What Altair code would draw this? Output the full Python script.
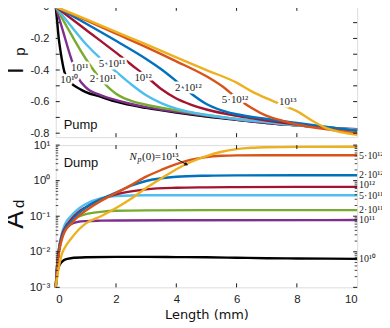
import altair as alt
import pandas as pd

series = ["1e10", "1e11", "2e11", "5e11", "1e12", "2e12", "5e12", "1e13"]
colors = ["#000000", "#7E2F8E", "#77AC30", "#4DBEEE", "#A2142F", "#0072BD", "#D95319", "#EDB120"]

# ---- Pump panel: T_p vs length (mm)
tp_x_1e10 = [0, 0.05, 0.1, 0.15, 0.2, 0.3, 0.5, 0.8, 1, 1.5, 2, 3, 4, 5, 6, 7, 8, 9, 10]
tp_y_1e10 = [0, -0.1, -0.2, -0.27, -0.33, -0.42, -0.48, -0.52, -0.54, -0.57, -0.6, -0.64, -0.67, -0.695, -0.715, -0.735, -0.75, -0.765, -0.775]
tp_x_1e11 = [0, 0.25, 0.5, 0.75, 1, 1.5, 2, 3, 4, 5, 6, 7, 8, 9, 10]
tp_y_1e11 = [0, -0.16, -0.32, -0.45, -0.51, -0.56, -0.59, -0.635, -0.665, -0.69, -0.715, -0.735, -0.75, -0.765, -0.775]
tp_x_2e11 = [0, 0.5, 1, 1.5, 2, 2.5, 3, 4, 5, 6, 7, 8, 9, 10]
tp_y_2e11 = [0, -0.17, -0.33, -0.46, -0.55, -0.595, -0.62, -0.655, -0.685, -0.71, -0.73, -0.75, -0.765, -0.78]
tp_x_5e11 = [0, 0.5, 1, 1.5, 2, 2.5, 3, 3.5, 4, 5, 6, 7, 8, 9, 10]
tp_y_5e11 = [0, -0.12, -0.235, -0.33, -0.41, -0.49, -0.56, -0.61, -0.645, -0.685, -0.71, -0.73, -0.75, -0.765, -0.78]
tp_x_1e12 = [0, 1, 2, 2.5, 3, 3.5, 4, 4.5, 5, 6, 7, 8, 9, 10]
tp_y_1e12 = [0, -0.145, -0.29, -0.365, -0.44, -0.52, -0.58, -0.62, -0.65, -0.69, -0.72, -0.745, -0.765, -0.785]
tp_x_2e12 = [0, 1, 2, 3, 3.5, 4, 4.5, 5, 5.5, 6, 7, 8, 9, 10]
tp_y_2e12 = [0, -0.105, -0.215, -0.33, -0.395, -0.47, -0.55, -0.615, -0.655, -0.68, -0.71, -0.735, -0.76, -0.785]
tp_x_5e12 = [0, 1, 2, 3, 4, 5, 5.5, 6, 6.5, 7, 7.5, 8, 9, 10]
tp_y_5e12 = [0, -0.085, -0.17, -0.255, -0.345, -0.44, -0.5, -0.575, -0.64, -0.69, -0.72, -0.745, -0.775, -0.8]
tp_x_1e13 = [0, 1, 2, 3, 4, 5, 6, 6.5, 7, 7.5, 8, 8.5, 9, 9.5, 10]
tp_y_1e13 = [0, -0.078, -0.158, -0.238, -0.32, -0.4, -0.48, -0.535, -0.58, -0.62, -0.66, -0.72, -0.77, -0.795, -0.81]

tp_lab_text = ["10¹⁰", "10¹¹", "2·10¹¹", "5·10¹¹", "10¹²", "2·10¹²", "5·10¹²", "10¹³"]
tp_lab_x = [0.45, 0.8, 1.57, 1.87, 2.9, 4.4, 5.95, 7.7]
tp_lab_y = [-0.466, -0.387, -0.454, -0.363, -0.448, -0.515, -0.588, -0.60]

# ---- Dump panel: A_d vs length (mm)
ad_x_1e10 = [0, 0.05, 0.1, 0.2, 0.3, 0.5, 1, 2, 3, 4, 5, 6, 7, 8, 9, 10]
ad_y_1e10 = [0.001, 0.0025, 0.0038, 0.0052, 0.006, 0.0066, 0.007, 0.0072, 0.0072, 0.0071, 0.007, 0.0068, 0.0066, 0.0065, 0.0064, 0.0063]
ad_x_1e11 = [0, 0.05, 0.1, 0.2, 0.3, 0.5, 0.75, 1, 1.5, 2, 4, 10]
ad_y_1e11 = [0.001, 0.0045, 0.011, 0.027, 0.041, 0.06, 0.07, 0.073, 0.075, 0.076, 0.077, 0.078]
ad_x_2e11 = [0, 0.05, 0.1, 0.2, 0.3, 0.5, 0.75, 1, 1.5, 2, 3, 5, 10]
ad_y_2e11 = [0.001, 0.0045, 0.011, 0.029, 0.046, 0.074, 0.097, 0.115, 0.133, 0.142, 0.146, 0.148, 0.148]
ad_x_5e11 = [0, 0.05, 0.1, 0.2, 0.3, 0.5, 0.75, 1, 1.5, 2, 3, 10]
ad_y_5e11 = [0.001, 0.0048, 0.0115, 0.032, 0.058, 0.1, 0.16, 0.22, 0.32, 0.37, 0.39, 0.39]
ad_x_1e12 = [0, 0.05, 0.1, 0.2, 0.3, 0.5, 0.75, 1, 1.5, 2, 2.5, 3, 4, 5, 6, 8, 10]
ad_y_1e12 = [0.001, 0.0043, 0.0105, 0.028, 0.046, 0.079, 0.13, 0.18, 0.3, 0.41, 0.5, 0.57, 0.63, 0.65, 0.66, 0.67, 0.67]
ad_x_2e12 = [0, 0.05, 0.1, 0.2, 0.3, 0.5, 0.75, 1, 1.5, 2, 2.5, 3, 3.5, 4, 5, 6, 8, 10]
ad_y_2e12 = [0.001, 0.004, 0.0095, 0.025, 0.042, 0.07, 0.12, 0.175, 0.3, 0.46, 0.72, 0.98, 1.17, 1.29, 1.38, 1.41, 1.42, 1.42]
ad_x_5e12 = [0, 0.05, 0.1, 0.2, 0.3, 0.5, 0.75, 1, 1.5, 2, 2.5, 3, 3.5, 4, 4.5, 5, 5.5, 6, 7, 10]
ad_y_5e12 = [0.001, 0.0035, 0.0085, 0.022, 0.037, 0.06, 0.1, 0.145, 0.27, 0.45, 0.75, 1.3, 2.0, 2.9, 3.9, 4.6, 5.0, 5.15, 5.2, 5.2]
ad_x_1e13 = [0, 0.05, 0.1, 0.2, 0.3, 0.5, 0.75, 1, 1.5, 2, 2.5, 3, 3.5, 4, 4.5, 5, 5.5, 6, 6.5, 7, 8, 10]
ad_y_1e13 = [0.001, 0.002, 0.0037, 0.0085, 0.013, 0.023, 0.041, 0.063, 0.1, 0.17, 0.31, 0.62, 1.15, 2.1, 3.4, 4.9, 6.5, 7.7, 8.4, 8.7, 8.9, 9.0]

ad_lab_text = ["10¹⁰", "10¹¹", "2·10¹¹", "5·10¹¹", "10¹²", "2·10¹²", "5·10¹²"]
ad_lab_y = [0.0063, 0.076, 0.148, 0.37, 0.75, 1.42, 5.0]

x_ticks = [0, 2, 4, 6, 8, 10]
tp_ticks = [0, -0.2, -0.4, -0.6, -0.8]
ad_ticks = [0.001, 0.01, 0.1, 1, 10]

TICK_FONT = "Liberation Sans"
SERIF = "Liberation Serif"
FRAME = "#1a1a1a"
W, H1, H2 = 303, 131, 143

tp_xs = [tp_x_1e10, tp_x_1e11, tp_x_2e11, tp_x_5e11, tp_x_1e12, tp_x_2e12, tp_x_5e12, tp_x_1e13]
tp_ys = [tp_y_1e10, tp_y_1e11, tp_y_2e11, tp_y_5e11, tp_y_1e12, tp_y_2e12, tp_y_5e12, tp_y_1e13]
ad_xs = [ad_x_1e10, ad_x_1e11, ad_x_2e11, ad_x_5e11, ad_x_1e12, ad_x_2e12, ad_x_5e12, ad_x_1e13]
ad_ys = [ad_y_1e10, ad_y_1e11, ad_y_2e11, ad_y_5e11, ad_y_1e12, ad_y_2e12, ad_y_5e12, ad_y_1e13]


def long_df(xs, ys):
    rows = []
    for i, (s, xl, yl) in enumerate(zip(series, xs, ys)):
        for a, b in zip(xl, yl):
            rows.append({"series": s, "k": i, "x": a, "y": b})
    return pd.DataFrame(rows)


tp_df = long_df(tp_xs, tp_ys)
ad_df = long_df(ad_xs, ad_ys)
color = alt.Color("series:N", scale=alt.Scale(domain=series, range=colors), legend=None)
xscale = alt.Scale(domain=[0, 10], nice=False)
ysc_top = alt.Scale(domain=[-0.825, 0], nice=False, zero=False)
ysc_bot = alt.Scale(type="log", domain=[0.001, 10], nice=False)

yax_top = alt.Axis(
    values=tp_ticks, title=None, ticks=False, domain=False, grid=False,
    labelExpr="replace(datum.value == 0 ? '0' : format(datum.value, '.1f'), '\u2212', '-')",
    labelFont=TICK_FONT, labelFontSize=11, labelColor="#222", labelPadding=7)
xax_bot = alt.Axis(
    values=x_ticks, title="Length (mm)", ticks=False, domain=False, grid=False,
    labelFont=TICK_FONT, labelFontSize=11.5, labelColor="#222", labelPadding=6,
    titleFont="DejaVu Sans", titleFontSize=13, titleFontWeight="normal", titleColor="#111", titlePadding=4)
yax_bot = alt.Axis(
    values=ad_ticks, title=None, ticks=False, domain=False, grid=False,
    labelExpr="'10' + (datum.value >= 10 ? '\u00b9' : datum.value >= 1 ? '\u2070' : datum.value >= 0.1 ? '\u207b\u00b9' : datum.value >= 0.01 ? '\u207b\u00b2' : '\u207b\u00b3')",
    labelFont=TICK_FONT, labelFontSize=11.5, labelColor="#222", labelPadding=6)


def XT(f="x"):
    return alt.X(f"{f}:Q", scale=xscale, axis=None)


def YT(f="y"):
    return alt.Y(f"{f}:Q", scale=ysc_top, axis=yax_top)


def XB(f="x"):
    return alt.X(f"{f}:Q", scale=xscale, axis=xax_bot)


def YB(f="y"):
    return alt.Y(f"{f}:Q", scale=ysc_bot, axis=yax_bot)


def txt(s, **kw):
    return alt.Chart(pd.DataFrame({"t": [s]})).mark_text(**kw)


# ---------------- top panel
top_lines = alt.Chart(tp_df).mark_line(strokeWidth=2.4, interpolate="monotone").encode(
    x=XT(), y=YT(), color=color, detail="k:O")

tp_lab = pd.DataFrame({"x": tp_lab_x, "y": tp_lab_y, "t": tp_lab_text})
halo = alt.Chart(tp_lab).mark_text(font=SERIF, fontSize=11, stroke="white", strokeWidth=5,
                                   fill="white", strokeJoin="round").encode(x=XT(), y=YT(), text="t:N")
labs = alt.Chart(tp_lab).mark_text(font=SERIF, fontSize=11, color="#222").encode(x=XT(), y=YT(), text="t:N")

tp_minor = pd.DataFrame({"y": [-0.1 * i for i in range(9)]})
xt = pd.DataFrame({"x": [2, 4, 6, 8]})
ty_l = alt.Chart(tp_minor).mark_rule(color=FRAME, strokeWidth=1).encode(y=YT(), x=alt.value(0), x2=alt.value(4))
ty_r = alt.Chart(tp_minor).mark_rule(color=FRAME, strokeWidth=1).encode(y=YT(), x=alt.value(W), x2=alt.value(W - 4))
tx_b1 = alt.Chart(xt).mark_rule(color=FRAME, strokeWidth=1).encode(x=XT(), y=alt.value(H1), y2=alt.value(H1 - 4))
tx_t1 = alt.Chart(xt).mark_rule(color=FRAME, strokeWidth=1).encode(x=XT(), y=alt.value(0), y2=alt.value(4))

pump = txt("Pump", font=TICK_FONT, fontSize=13, align="left", baseline="alphabetic", color="#111").encode(
    text="t:N", x=alt.value(8), y=alt.value(123))
t_big = txt("T", font=TICK_FONT, fontSize=26, angle=270, align="center", baseline="middle", color="#111").encode(
    text="t:N", x=alt.value(-41), y=alt.value(64))
t_sub = txt("p", font=TICK_FONT, fontSize=15, angle=270, align="center", baseline="middle", color="#111").encode(
    text="t:N", x=alt.value(-36), y=alt.value(45))

top = alt.layer(top_lines, halo, labs, ty_l, ty_r, tx_b1, tx_t1, pump, t_big, t_sub).properties(width=W, height=H1)

# ---------------- bottom panel
bot_lines = alt.Chart(ad_df).mark_line(strokeWidth=2.4, interpolate="monotone").encode(
    x=XB(), y=YB(), color=color, detail="k:O")

ad_lab = pd.DataFrame({"x": [10] * len(ad_lab_y), "y": ad_lab_y, "t": ad_lab_text})
rlabs = alt.Chart(ad_lab).mark_text(font=SERIF, fontSize=10, align="left", dx=2, baseline="middle", color="#222").encode(
    x=XB(), y=YB(), text="t:N")

ad_major = pd.DataFrame({"y": ad_ticks})
ad_minor = pd.DataFrame({"y": [k * d for d in [0.001, 0.01, 0.1, 1] for k in range(2, 10)]})
by_l = alt.Chart(ad_major).mark_rule(color=FRAME).encode(y=YB(), x=alt.value(0), x2=alt.value(4))
by_r = alt.Chart(ad_major).mark_rule(color=FRAME).encode(y=YB(), x=alt.value(W), x2=alt.value(W - 4))
bm_l = alt.Chart(ad_minor).mark_rule(color=FRAME, strokeWidth=0.8).encode(y=YB(), x=alt.value(0), x2=alt.value(2.5))
bm_r = alt.Chart(ad_minor).mark_rule(color=FRAME, strokeWidth=0.8).encode(y=YB(), x=alt.value(W), x2=alt.value(W - 2.5))
tx_b2 = alt.Chart(xt).mark_rule(color=FRAME).encode(x=XB(), y=alt.value(H2), y2=alt.value(H2 - 4))
tx_t2 = alt.Chart(xt).mark_rule(color=FRAME).encode(x=XB(), y=alt.value(0), y2=alt.value(4))

dump = txt("Dump", font=TICK_FONT, fontSize=13, align="left", baseline="alphabetic", color="#111").encode(
    text="t:N", x=alt.value(8), y=alt.value(22))
a_big = txt("A", font=TICK_FONT, fontSize=27, angle=270, align="center", baseline="middle", color="#111").encode(
    text="t:N", x=alt.value(-40.5), y=alt.value(75))
a_sub = txt("d", font=TICK_FONT, fontSize=15, angle=270, align="center", baseline="middle", color="#111").encode(
    text="t:N", x=alt.value(-37), y=alt.value(59))

# annotation N_p(0)=10^13 with arrow
ann = pd.DataFrame({"x": [2.45], "y": [3.9]})
ann_n = alt.Chart(ann).mark_text(font=SERIF, fontSize=11, fontStyle="italic", align="left",
                                 baseline="alphabetic", color="#111").encode(x=XB(), y=YB(), text=alt.value("N"))
ann_p = alt.Chart(ann).mark_text(font=SERIF, fontSize=8, fontStyle="italic", align="left",
                                 baseline="alphabetic", dx=8, dy=2, color="#111").encode(x=XB(), y=YB(), text=alt.value("p"))
ann_r = alt.Chart(ann).mark_text(font=SERIF, fontSize=11, align="left", baseline="alphabetic", dx=12.5,
                                 color="#111").encode(x=XB(), y=YB(), text=alt.value("(0)=10\u00b9\u00b3"))
arr = pd.DataFrame({"x": [4.0], "y": [4.1], "x2": [4.32], "y2": [2.9]})
arr_line = alt.Chart(arr).mark_rule(color="#111", strokeWidth=1).encode(x=XB(), y=YB(), x2="x2:Q", y2="y2:Q")
arr_head = alt.Chart(arr).mark_point(shape="triangle", filled=True, size=18, angle=118, color="#111",
                                     opacity=1).encode(x=XB("x2"), y=YB("y2"))

bottom = alt.layer(bot_lines, rlabs, by_l, by_r, bm_l, bm_r, tx_b2, tx_t2, dump, a_big, a_sub,
                   ann_n, ann_p, ann_r, arr_line, arr_head).properties(width=W, height=H2)

chart = alt.vconcat(top, bottom, spacing=8, bounds="flush").properties(
    padding={"left": -7, "top": -9, "right": -2, "bottom": 0}
).configure_view(stroke=FRAME, strokeWidth=1).configure(background="white")

chart.save("out.html", embed_options={"renderer": "svg", "actions": False})
